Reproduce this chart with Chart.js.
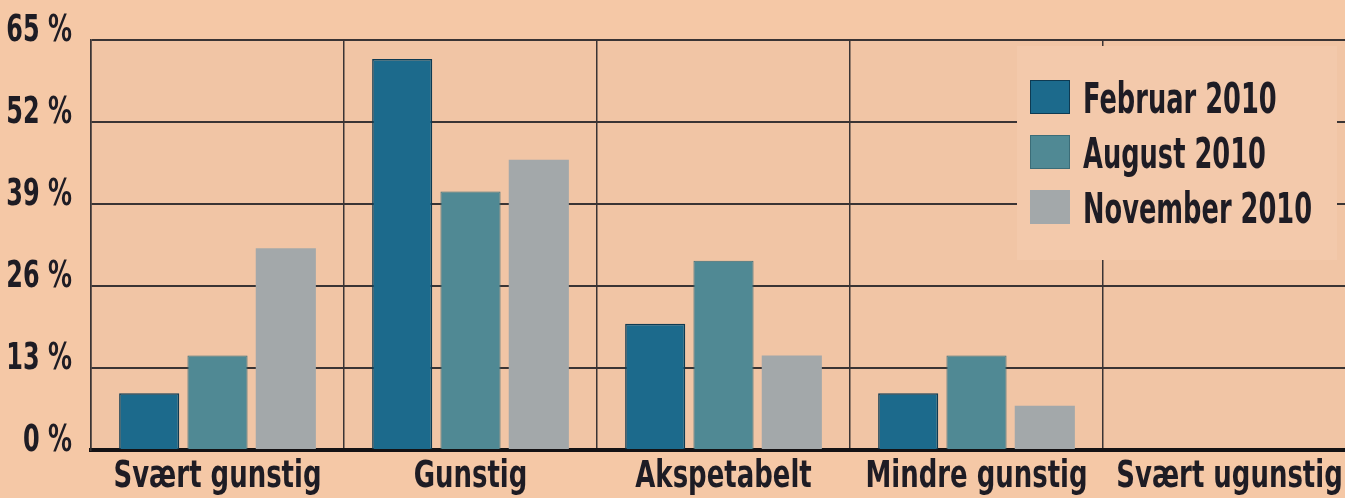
<!DOCTYPE html>
<html>
<head>
<meta charset="utf-8">
<script src="https://cdn.jsdelivr.net/npm/chart.js@4.4.1/dist/chart.umd.min.js"></script>
<style>
  html, body { margin: 0; padding: 0; background: #f5c8a6; overflow: hidden; }
  #wrap { width: 1345px; height: 498px; overflow: hidden; }
</style>
</head>
<body>
<div id="wrap"><canvas id="chart" width="1356" height="498"></canvas></div>
<script>
// chart data
const categories = ['Svært gunstig', 'Gunstig', 'Akspetabelt', 'Mindre gunstig', 'Svært ugunstig'];
const seriesNames = ['Februar 2010', 'August 2010', 'November 2010'];
const februar = [9, 62, 20, 9, 0];
const august = [15, 41, 30, 15, 0];
const november = [32, 46, 15, 7, 0];
const yTicks = [0, 13, 26, 39, 52, 65];

const FONT = '"Liberation Sans Narrow", "DejaVu Sans Condensed", sans-serif';
const ink = '#1e1c24';

// narrow text helper: the print font is a tall condensed face
function narrowText(ctx, text, x, y, size, squeeze, align) {
    ctx.save();
    ctx.font = 'bold ' + size + 'px ' + FONT;
    ctx.fillStyle = ink;
    ctx.textBaseline = 'alphabetic';
    const w = ctx.measureText(text).width * squeeze;
    let x0 = x;
    if (align === 'center') x0 = x - w / 2;
    if (align === 'right') x0 = x - w;
    ctx.translate(x0, y);
    ctx.scale(squeeze, 1);
    ctx.fillText(text, 0, 0);
    ctx.restore();
}

// peach page background
const bgPlugin = {
    id: 'bg',
    beforeDraw(chart) {
        const ctx = chart.ctx;
        ctx.save();
        ctx.fillStyle = '#f5c8a6';
        ctx.fillRect(0, 0, chart.width, chart.height);
        const a = chart.chartArea;
        ctx.fillStyle = '#f1c5a5';
        ctx.fillRect(a.left, a.top, a.right - a.left, a.bottom - a.top);
        ctx.restore();
    }
};

// axis labels drawn at the library's tick positions
const labelPlugin = {
    id: 'axisLabels',
    afterDraw(chart) {
        const ctx = chart.ctx;
        const xs = chart.scales.x;
        const ys = chart.scales.y;
        chart.data.labels.forEach((lab, i) => {
            narrowText(ctx, lab, xs.getPixelForTick(i), 487, 37, 0.78, 'center');
        });
        yTicks.forEach(v => {
            narrowText(ctx, v + ' %', 72, ys.getPixelForValue(v) + 1, 37, 0.72, 'right');
        });
    }
};

// legend box inside the plot, top right
const legendPlugin = {
    id: 'boxLegend',
    afterDraw(chart) {
        const ctx = chart.ctx;
        ctx.save();
        ctx.fillStyle = '#f3c9ab';
        ctx.fillRect(1017, 46, 320, 214);
        chart.data.datasets.forEach((ds, i) => {
            const y = 80 + i * 55;
            ctx.fillStyle = ds.backgroundColor;
            ctx.fillRect(1030, y, 40, 34);
            ctx.strokeStyle = ds.borderColor;
            ctx.lineWidth = 1;
            ctx.strokeRect(1030.5, y + 0.5, 39, 33);
            narrowText(ctx, ds.label, 1083, y + 33, 42, 0.68, 'left');
        });
        ctx.restore();
    }
};

const ctx = document.getElementById('chart').getContext('2d');
const myChart = new Chart(ctx, {
    type: 'bar',
    data: {
        labels: categories,
        datasets: [
            { label: seriesNames[0], data: februar, backgroundColor: '#1c6a8c', borderColor: '#0e3a52', borderWidth: 1.5 },
            { label: seriesNames[1], data: august, backgroundColor: '#508994', borderColor: '#3b6c77', borderWidth: 1 },
            { label: seriesNames[2], data: november, backgroundColor: '#a3a8aa', borderColor: '#a3a8aa', borderWidth: 0 }
        ]
    },
    options: {
        responsive: false,
        animation: false,
        layout: { padding: { top: 40, right: 0, left: 0, bottom: 0 } },
        datasets: {
            bar: { categoryPercentage: 0.81, barPercentage: 0.88 }
        },
        plugins: {
            legend: { display: false },
            tooltip: { enabled: false }
        },
        scales: {
            x: {
                grid: { offset: true, color: '#3a3434', lineWidth: 1.5, drawTicks: false },
                border: { color: '#141214', width: 4 },
                ticks: { display: false },
                afterFit(scale) { scale.height = 48; }
            },
            y: {
                min: 0,
                max: 65,
                afterBuildTicks(scale) { scale.ticks = yTicks.map(v => ({ value: v })); },
                grid: { color: '#3a3434', lineWidth: 2, drawTicks: false },
                border: { color: '#3a3434', width: 1.5 },
                ticks: { display: false },
                afterFit(scale) { scale.width = 91; }
            }
        }
    },
    plugins: [bgPlugin, labelPlugin, legendPlugin]
});

myChart.update();
</script>
</body>
</html>
